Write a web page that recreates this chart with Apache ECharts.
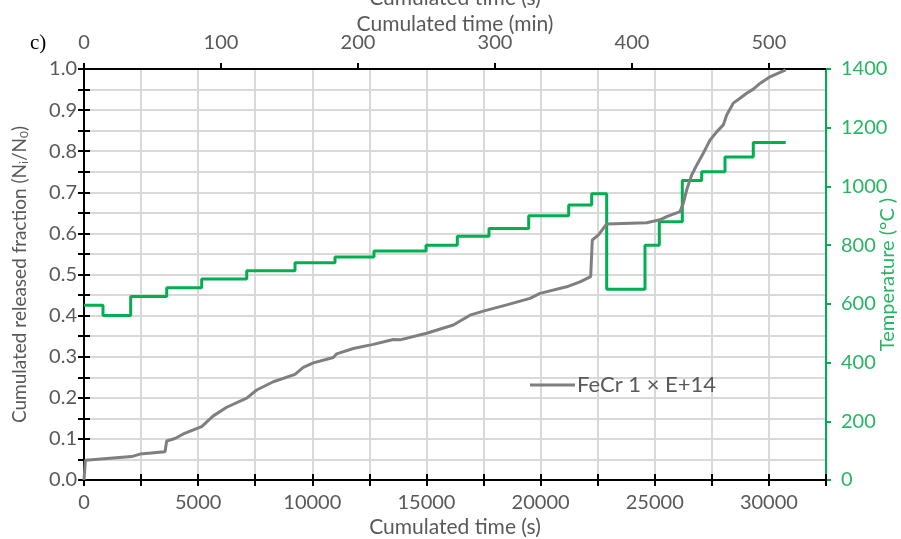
<!DOCTYPE html>
<html>
<head>
<meta charset="utf-8">
<script src="https://cdn.jsdelivr.net/npm/echarts@6/dist/echarts.min.js"></script>
<style>html,body{margin:0;padding:0;background:#fff}#c{width:901px;height:539px}</style>
</head>
<body>
<div id="c"></div>
<script>
// Gray series: cumulated released fraction vs cumulated time (s)
var fracTime = [0, 60, 2089, 2453, 3548, 3622, 3986, 4349, 5155, 5663, 6250, 7126, 7564, 8291, 9242, 9605, 10043, 10920, 11068, 11795, 12671, 13547, 13841, 15010, 16175, 16907, 17490, 18514, 19535, 19973, 21142, 21725, 22193, 22264, 22526, 22894, 24645, 25229, 25521, 26105, 26249, 26398, 26617, 26836, 27125, 27419, 27712, 28001, 28151, 28439, 28733, 29026, 29315, 29609, 30047, 30735];
var fracValue = [0, 0.048, 0.057, 0.063, 0.069, 0.095, 0.101, 0.112, 0.130, 0.156, 0.177, 0.199, 0.219, 0.239, 0.257, 0.274, 0.285, 0.298, 0.307, 0.320, 0.330, 0.342, 0.341, 0.357, 0.377, 0.401, 0.411, 0.426, 0.442, 0.454, 0.470, 0.482, 0.495, 0.584, 0.596, 0.623, 0.626, 0.633, 0.641, 0.653, 0.673, 0.706, 0.742, 0.766, 0.795, 0.827, 0.847, 0.864, 0.888, 0.917, 0.929, 0.941, 0.951, 0.965, 0.981, 0.998];
// Green series: temperature steps (start time of each step, temperature)
var stepTime = [0, 832, 2045, 3622, 5155, 7126, 9242, 10994, 12702, 14980, 16351, 17739, 19478, 21230, 22237, 22894, 24572, 25198, 26206, 27055, 28076, 29315, 30735];
var stepTemp = [595, 560, 625, 655, 685, 713, 740, 760, 780, 800, 830, 857, 900, 937, 975, 650, 800, 880, 1020, 1050, 1100, 1150, 1150];
var seriesName = 'FeCr 1 × E+14';
var xTitle = 'Cumulated time (s)';
var topTitle = 'Cumulated time (min)';
var yTitle = 'Cumulated released fraction (N{sub|i}/N{sub|0})';
var y2Title = 'Temperature (°C )';

var FONT = 'Lato';
var GRAYTXT = '#595959';
var GREEN = '#00B050';
var GREENTXT = '#27b562';
var fracData = fracTime.map(function (t, i) { return [t, fracValue[i]]; });
var tempData = stepTime.map(function (t, i) { return [t, stepTemp[i]]; });
var gridRect = { left: 84, right: 75, top: 69, bottom: 59, containLabel: false, outerBoundsMode: 'none' };

var chart = echarts.init(document.getElementById('c'));
chart.setOption({
  animation: false,
  textStyle: { fontFamily: FONT },
  grid: [Object.assign({}, gridRect), Object.assign({}, gridRect)],
  legend: {
    left: 530, top: 374, padding: 0,
    data: [{ name: seriesName, icon: 'rect' }],
    itemWidth: 45, itemHeight: 3, itemGap: 4,
    textStyle: { color: GRAYTXT, fontSize: 22, fontFamily: FONT, padding: [0, 0, 0, -3] }
  },
  graphic: [
    { type: 'text', left: 30, top: 33, style: { text: 'c)', font: '21px "Liberation Serif"', fill: '#000' } },
    { type: 'text', x: 455, y: 24, style: { text: topTitle, font: '21px ' + FONT, fill: GRAYTXT, textAlign: 'center', textVerticalAlign: 'middle' } },
    { type: 'text', x: 455, y: 9, style: { text: xTitle, font: '21px ' + FONT, fill: GRAYTXT, textAlign: 'center', textVerticalAlign: 'bottom' } }
  ],
  xAxis: [
    {
      gridIndex: 0, type: 'value', position: 'bottom', min: 0, max: 32500, interval: 2500,
      axisLine: { onZero: false, lineStyle: { color: '#000', width: 2 } },
      axisTick: { length: 6, lineStyle: { color: '#000', width: 2 } },
      axisLabel: { color: GRAYTXT, fontSize: 20, margin: 13, formatter: function (v) { return v % 5000 === 0 ? String(v) : ''; } },
      splitLine: { show: true, lineStyle: { color: '#d9d9d9', width: 2 } },
      name: xTitle, nameLocation: 'middle', nameGap: 37, nameMoveOverlap: false,
      nameTextStyle: { color: GRAYTXT, fontSize: 21 }
    },
    {
      gridIndex: 0, type: 'value', position: 'top', min: 0, max: 32500 / 60, interval: 100,
      axisLine: { onZero: false, lineStyle: { color: '#000', width: 2 } },
      axisTick: { length: 6, lineStyle: { color: '#000', width: 2 } },
      axisLabel: { color: GRAYTXT, fontSize: 20, margin: 16, showMaxLabel: false, formatter: function (v) { return v % 100 === 0 ? String(v) : ''; } },
      splitLine: { show: false }
    },
    {
      gridIndex: 1, type: 'value', position: 'bottom', min: 0, max: 32500, interval: 2500,
      axisLine: { show: false, onZero: false },
      axisTick: { inside: true, length: 6, lineStyle: { color: '#000', width: 2 } },
      axisLabel: { show: false }, splitLine: { show: false }
    }
  ],
  yAxis: [
    {
      gridIndex: 0, type: 'value', position: 'left', min: 0, max: 1, interval: 0.05,
      axisLine: { show: true, onZero: false, lineStyle: { color: '#000', width: 2 } },
      axisTick: { show: true, length: 6, lineStyle: { color: '#000', width: 2 } },
      axisLabel: { color: GRAYTXT, fontSize: 20, margin: 7, formatter: function (v) { return Math.round(v * 20) % 2 === 0 ? v.toFixed(1) : ''; } },
      splitLine: { show: true, lineStyle: { color: '#d9d9d9', width: 2 } },
      name: yTitle, nameLocation: 'middle', nameGap: 54, nameRotate: 90, nameMoveOverlap: false,
      nameTextStyle: { color: GRAYTXT, fontSize: 19, rich: { sub: { fontSize: 12, verticalAlign: 'bottom', padding: [8, 0, 0, 0], color: GRAYTXT } } }
    },
    {
      gridIndex: 0, type: 'value', position: 'right', min: 0, max: 1400, interval: 200,
      axisLine: { show: true, onZero: false, lineStyle: { color: GREEN, width: 2 } },
      axisTick: { show: true, length: 5, lineStyle: { color: GREEN, width: 2 } },
      axisLabel: { color: GREENTXT, fontSize: 20, margin: 15, formatter: function (v) { return String(v); } },
      splitLine: { show: false },
      name: y2Title, nameLocation: 'middle', nameGap: 52, nameRotate: 90, nameMoveOverlap: false,
      nameTextStyle: { color: GREENTXT, fontSize: 20 }
    },
    {
      gridIndex: 1, type: 'value', position: 'left', min: 0, max: 1, interval: 0.05,
      axisLine: { show: false, onZero: false },
      axisTick: { show: true, inside: true, length: 6, lineStyle: { color: '#000', width: 2 } },
      axisLabel: { show: false }, splitLine: { show: false }
    }
  ],
  series: [
    {
      name: seriesName, type: 'line', xAxisIndex: 0, yAxisIndex: 0,
      data: fracData, showSymbol: false, symbol: 'none',
      lineStyle: { color: '#7f7f7f', width: 3 }, itemStyle: { color: '#7f7f7f' }, z: 3
    },
    {
      name: 'Temperature', type: 'line', xAxisIndex: 0, yAxisIndex: 1,
      data: tempData, step: 'end', showSymbol: false, symbol: 'none',
      lineStyle: { color: GREEN, width: 3 }, itemStyle: { color: GREEN }, z: 2
    }
  ]
});
</script>
</body>
</html>
